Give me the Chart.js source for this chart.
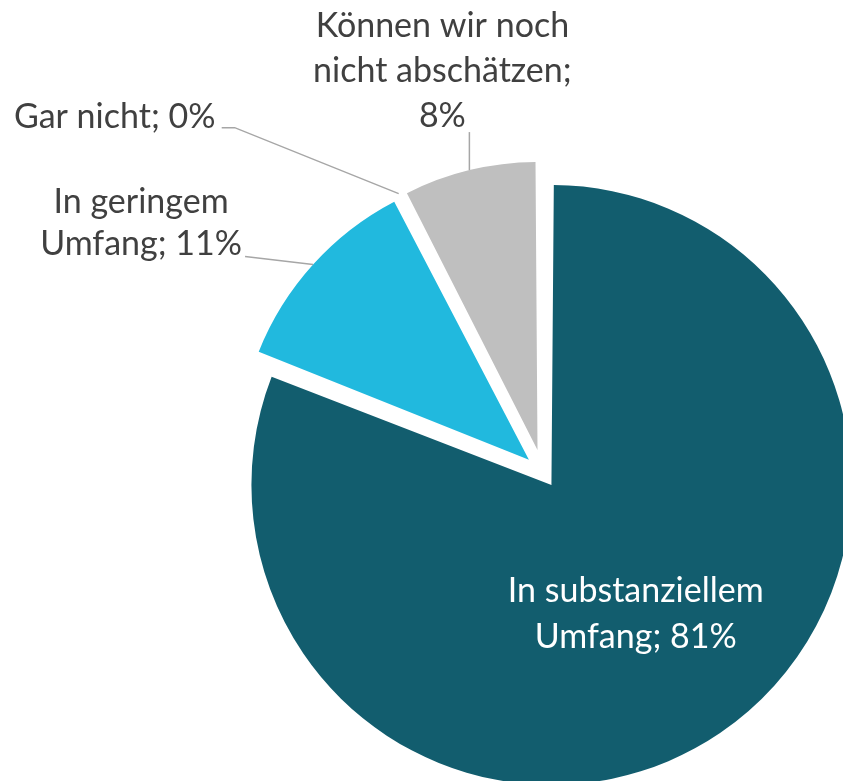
<!DOCTYPE html>
<html>
<head>
<meta charset="utf-8">
<script src="https://cdn.jsdelivr.net/npm/chart.js@4.4.1/dist/chart.umd.min.js"></script>
<style>
  html, body { margin: 0; padding: 0; background: #ffffff; }
  #wrap { position: relative; width: 843px; height: 781px; }
</style>
</head>
<body>
<div id="wrap"><canvas id="c"></canvas></div>
<script>
// ---- data ----
const categories = ['In substanziellem Umfang', 'In geringem Umfang', 'Gar nicht', 'Können wir noch nicht abschätzen'];
const values = [81.0, 11.4, 0, 7.6];
const colors = ['#125D6E', '#21B9DE', '#A5A5A5', '#BFBFBF'];
const pct = v => Math.round(v) + '%';
const labelLines = [
  ['In substanziellem', 'Umfang; ' + pct(values[0])],
  ['In geringem', 'Umfang; ' + pct(values[1])],
  ['Gar nicht; ' + pct(values[2])],
  ['Können wir noch', 'nicht abschätzen;', pct(values[3])]
];

const FONT = '34px Lato, "Open Sans", sans-serif';

// keep exploded slices at their own visible radius (undo offset radius growth)
const sliceRadiusPlugin = {
  id: 'sliceRadius',
  afterDatasetUpdate(chart, args, opts) {
    args.meta.data.forEach((arc, i) => {
      const off = (arc.options.offset || 0) / 4;
      const circ = arc.endAngle - arc.startAngle;
      const fix = 1 - Math.sin(Math.min(Math.PI, circ || 0));
      arc.outerRadius = opts.radii[i] - off * fix;
    });
  }
};

const sliceLabelPlugin = {
  id: 'sliceLabels',
  afterDraw(chart, args, opts) {
    const ctx = chart.ctx;
    const meta = chart.getDatasetMeta(0);
    meta.data.forEach((arc, i) => {
      const cfg = opts.items[i];
      const mid = (arc.startAngle + arc.endAngle) / 2;
      const t = (arc.options.offset || 0) / 4;
      const circ = arc.endAngle - arc.startAngle;
      const fix = 1 - Math.sin(Math.min(Math.PI, circ || 0));
      const rVis = arc.outerRadius + t * fix;
      const ax = arc.x + Math.cos(mid) * t;
      const ay = arc.y + Math.sin(mid) * t;
      const r = cfg.inside ? cfg.k * rVis : rVis;
      const ex = ax + Math.cos(mid) * r;
      const ey = ay + Math.sin(mid) * r;
      ctx.save();
      if (cfg.leader) {
        ctx.strokeStyle = '#A6A6A6';
        ctx.lineWidth = 1.5;
        ctx.beginPath();
        ctx.moveTo(ex, ey);
        cfg.leader.forEach(p => ctx.lineTo(ex + p[0], ey + p[1]));
        ctx.stroke();
      }
      ctx.font = FONT;
      ctx.fillStyle = cfg.color;
      ctx.textAlign = 'center';
      ctx.textBaseline = 'alphabetic';
      labelLines[i].forEach((line, j) => {
        ctx.fillText(line, ex + cfg.dx, ey + cfg.dy + j * cfg.lh);
      });
      ctx.restore();
    });
  }
};

new Chart(document.getElementById('c'), {
  type: 'pie',
  data: {
    labels: categories,
    datasets: [{
      data: values,
      backgroundColor: colors,
      borderWidth: 0,
      offset: [60, 76, 56, 93],
      radius: 300,
      clip: false
    }]
  },
  options: {
    responsive: true,
    maintainAspectRatio: false,
    animation: false,
    layout: { padding: { left: 243, top: 164, right: 0, bottom: 0 } },
    plugins: {
      legend: { display: false },
      tooltip: { enabled: false },
      sliceRadius: { radii: [300, 291, 300, 288] },
      sliceLabels: {
        items: [
          { inside: true, k: 0.5, dx: 0, dy: -7, lh: 46, color: '#FFFFFF' },
          { dx: -172, dy: -52, lh: 42, color: '#404040', leader: [[-68, -8]] },
          { dx: -284, dy: -66, lh: 45, color: '#404040', leader: [[-164, -66], [-177, -66]] },
          { dx: -27, dy: -133, lh: 45, color: '#404040', leader: [[0, -38]] }
        ]
      }
    }
  },
  plugins: [sliceRadiusPlugin, sliceLabelPlugin]
});
</script>
</body>
</html>
